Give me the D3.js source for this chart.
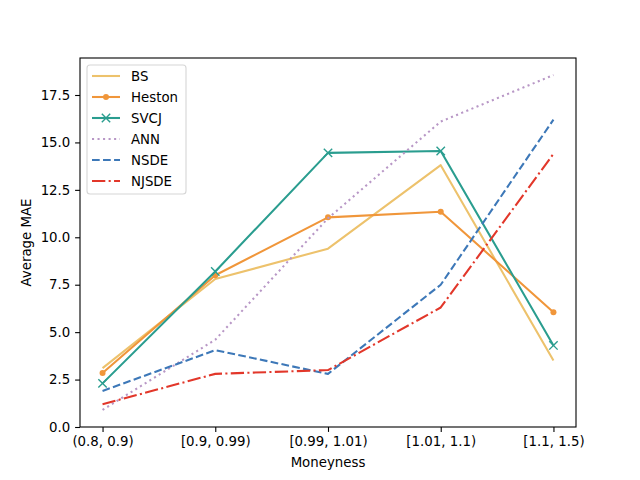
<!DOCTYPE html>
<html>
<head>
<meta charset="utf-8">
<script src="https://cdn.jsdelivr.net/npm/d3@7"></script>
<style>
  body { margin: 0; background: #fff; }
  text { font-family: "DejaVu Sans", sans-serif; }
</style>
</head>
<body>
<svg id="chart" width="640" height="480"></svg>
<script>
// data
const categories = ["(0.8, 0.9)", "[0.9, 0.99)", "[0.99, 1.01)", "[1.01, 1.1)", "[1.1, 1.5)"];
const bs     = [3.1, 7.8, 9.4, 13.8, 3.5];
const heston = [2.85, 8.0, 11.05, 11.35, 6.05];
const svcj   = [2.3, 8.2, 14.45, 14.55, 4.3];
const ann    = [0.9, 4.6, 11.0, 16.1, 18.55];
const nsde   = [1.9, 4.05, 2.8, 7.5, 16.2];
const njsde  = [1.2, 2.8, 3.0, 6.3, 14.4];
const yTicks = [0, 2.5, 5, 7.5, 10, 12.5, 15, 17.5];

const series = [
  {name: "BS",     values: bs,     color: "#edc26c", dash: null,                marker: null},
  {name: "Heston", values: heston, color: "#f0963a", dash: null,                marker: "dot"},
  {name: "SVCJ",   values: svcj,   color: "#2a9d8f", dash: null,                marker: "x"},
  {name: "ANN",    values: ann,    color: "#b897c6", dash: "2.08,3.44",         marker: null},
  {name: "NSDE",   values: nsde,   color: "#3d78b8", dash: "7.7,3.33",          marker: null},
  {name: "NJSDE",  values: njsde,  color: "#e2372a", dash: "13.3,3.33,2.08,3.33", marker: null}
];

const mLeft = 80, mRight = 576, mTop = 58, mBottom = 427;
const svg = d3.select("#chart");

const x = d3.scalePoint().domain(categories).range([mLeft, mRight]).padding(0.2);
const y = d3.scaleLinear().domain([0, 19.45]).range([mBottom, mTop]);

// axes
svg.append("g")
  .attr("transform", `translate(0,${mBottom})`)
  .call(d3.axisBottom(x).tickSize(4.9).tickPadding(4.8))
  .call(g => g.select(".domain").remove())
  .call(g => g.selectAll("text").attr("font-size", "13.33px").attr("fill", "#000"));

svg.append("g")
  .attr("transform", `translate(${mLeft},0)`)
  .call(d3.axisLeft(y).tickValues(yTicks).tickFormat(d3.format(".1f")).tickSize(4.9).tickPadding(4.8))
  .call(g => g.select(".domain").remove())
  .call(g => g.selectAll("text").attr("font-size", "13.33px").attr("fill", "#000"));

svg.selectAll(".tick line").attr("stroke", "#000").attr("stroke-width", 1.1);

svg.append("text").attr("x", (mLeft + mRight) / 2).attr("y", 467)
  .attr("text-anchor", "middle").attr("font-size", "13.33px").text("Moneyness");
svg.append("text").attr("transform", `translate(31,${(mTop + mBottom) / 2}) rotate(-90)`)
  .attr("text-anchor", "middle").attr("font-size", "13.33px").text("Average MAE");

// lines
const line = d3.line().x((d, i) => x(categories[i])).y(d => y(d));

series.forEach(s => {
  svg.append("path")
    .attr("d", line(s.values))
    .attr("fill", "none")
    .attr("stroke", s.color)
    .attr("stroke-width", 2.08)
    .attr("stroke-dasharray", s.dash)
    .attr("stroke-linejoin", "round");
  if (s.marker === "dot") {
    svg.selectAll(null).data(s.values).enter().append("circle")
      .attr("cx", (d, i) => x(categories[i])).attr("cy", d => y(d))
      .attr("r", 3).attr("fill", s.color);
  } else if (s.marker === "x") {
    svg.selectAll(null).data(s.values).enter().append("path")
      .attr("d", (d, i) => {
        const cx = x(categories[i]), cy = y(d), r = 4.2;
        return `M${cx - r},${cy - r}L${cx + r},${cy + r}M${cx - r},${cy + r}L${cx + r},${cy - r}`;
      })
      .attr("stroke", s.color).attr("stroke-width", 1.4).attr("fill", "none");
  }
});

// frame
svg.append("rect").attr("x", mLeft).attr("y", mTop)
  .attr("width", mRight - mLeft).attr("height", mBottom - mTop)
  .attr("fill", "none").attr("stroke", "#000").attr("stroke-width", 1.1);

// legend
const lg = svg.append("g");
lg.append("rect").attr("x", 87).attr("y", 65).attr("width", 99).attr("height", 129)
  .attr("rx", 3).attr("fill", "#fff").attr("fill-opacity", 0.8)
  .attr("stroke", "#d6d6d6").attr("stroke-width", 1.1);

series.forEach((s, i) => {
  const ly = 76 + i * 21;
  lg.append("line").attr("x1", 92).attr("x2", 120).attr("y1", ly).attr("y2", ly)
    .attr("stroke", s.color).attr("stroke-width", 2.08).attr("stroke-dasharray", s.dash);
  if (s.marker === "dot") {
    lg.append("circle").attr("cx", 106).attr("cy", ly).attr("r", 3).attr("fill", s.color);
  } else if (s.marker === "x") {
    const r = 4.2;
    lg.append("path").attr("d", `M${106 - r},${ly - r}L${106 + r},${ly + r}M${106 - r},${ly + r}L${106 + r},${ly - r}`)
      .attr("stroke", s.color).attr("stroke-width", 1.4);
  }
  lg.append("text").attr("x", 131).attr("y", ly + 4.8).attr("font-size", "13.33px").text(s.name);
});
</script>
</body>
</html>
